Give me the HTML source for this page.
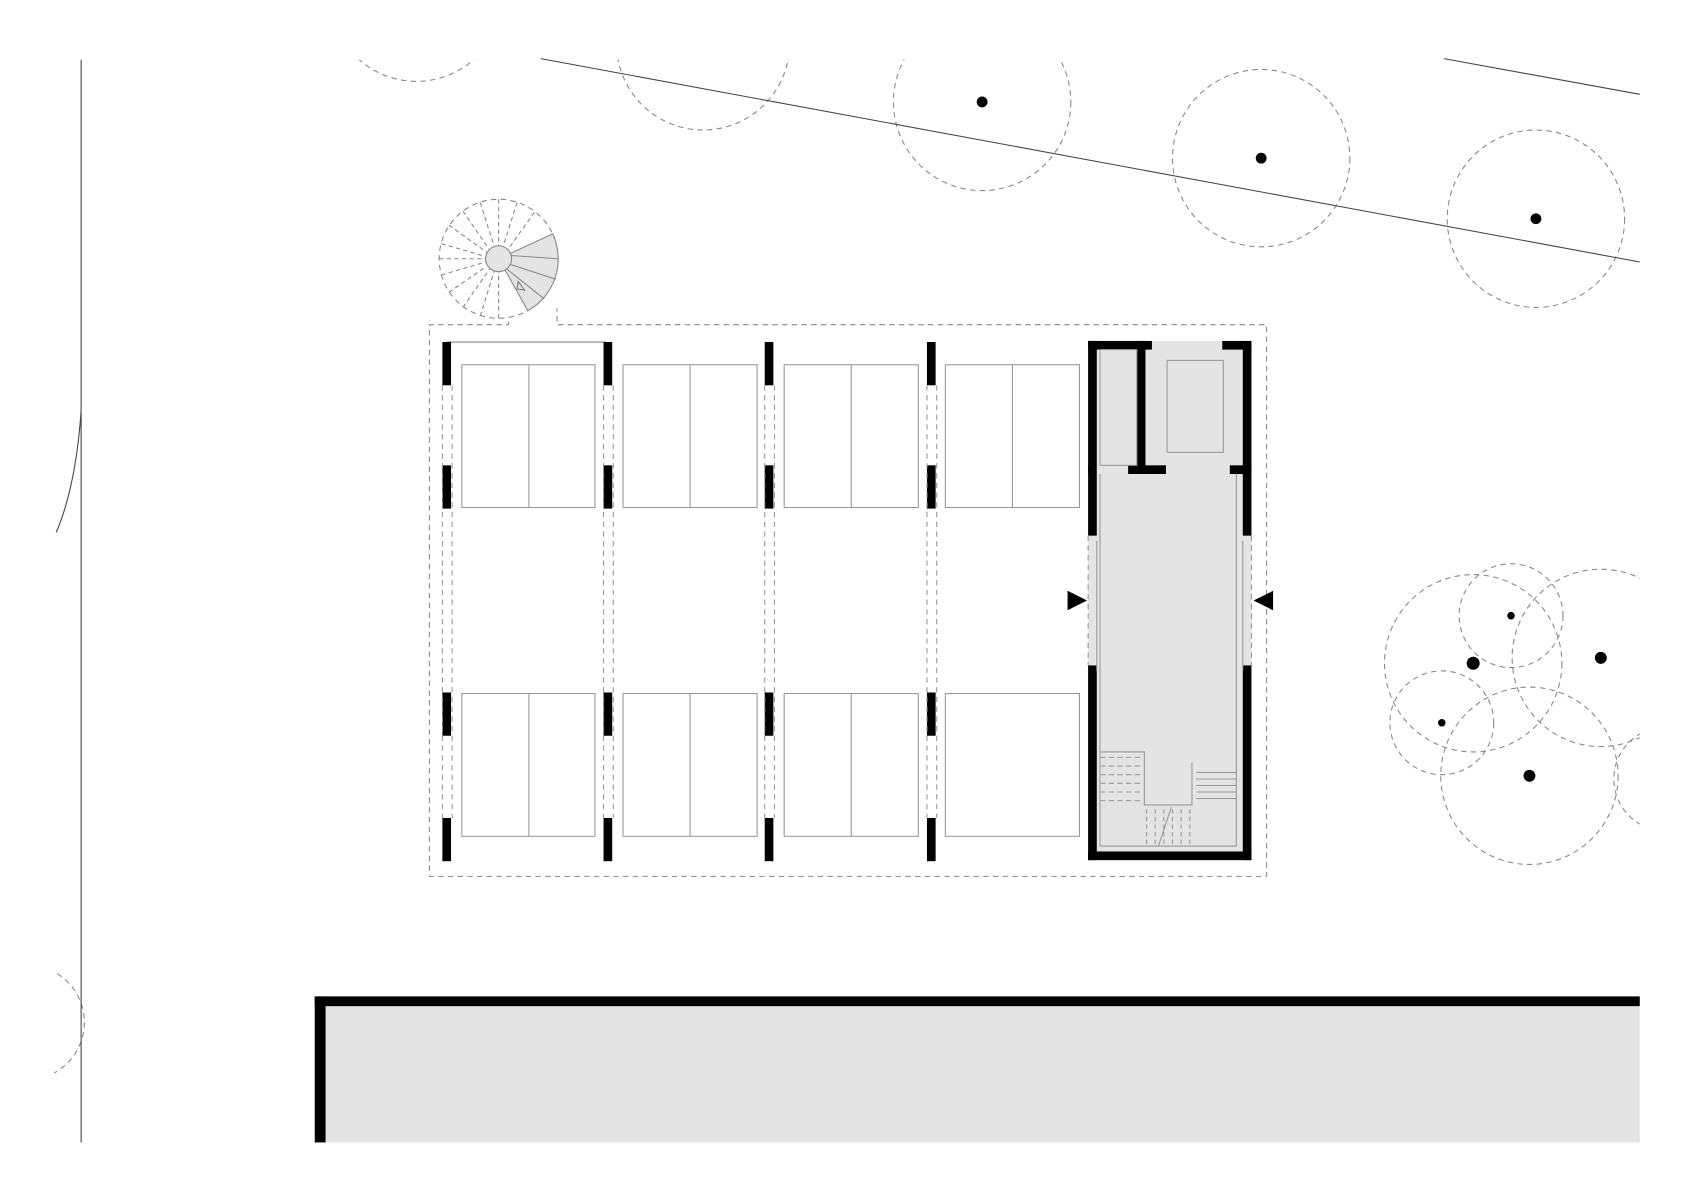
<!DOCTYPE html>
<html><head><style>html,body{margin:0;padding:0;background:#fff}svg{display:block}</style></head><body>
<svg width="1696" height="1200" viewBox="0 0 1568 1109" xmlns="http://www.w3.org/2000/svg">
<defs><clipPath id="c"><rect x="0" y="55" width="1516" height="1010"/></clipPath>
<clipPath id="c2"><rect x="50" y="850" width="100" height="200"/></clipPath></defs>
<rect width="1568" height="1109" fill="#fff"/>
<g clip-path="url(#c)" fill="none" stroke="#888" stroke-width="1" stroke-dasharray="5,4">
<circle cx="385" cy="-5" r="80"/>
<circle cx="650" cy="40" r="80"/>
<circle cx="908" cy="94" r="82"/>
<circle cx="1166" cy="146" r="82"/>
<circle cx="1420" cy="202" r="82"/>
<circle cx="1362" cy="613" r="82"/>
<circle cx="1397" cy="569" r="48"/>
<circle cx="1480" cy="608" r="82"/>
<circle cx="1333" cy="668" r="48"/>
<circle cx="1414" cy="717" r="82"/>
<circle cx="1540" cy="720" r="48"/>
</g>
<circle cx="25" cy="945" r="53" fill="none" stroke="#888" stroke-dasharray="5,4" clip-path="url(#c2)"/>
<g fill="#000">
<circle cx="908" cy="94" r="5"/><circle cx="1166" cy="146" r="5"/><circle cx="1420" cy="202" r="5"/>
<circle cx="1362" cy="613" r="6"/><circle cx="1397" cy="569" r="3.5"/><circle cx="1480" cy="608" r="5.5"/>
<circle cx="1333" cy="668" r="3.5"/><circle cx="1414" cy="717" r="5.5"/>
</g>
<g stroke="#444" stroke-width="1" fill="none">
<line x1="75" y1="55" x2="75" y2="1056"/>
<path d="M75 380 Q70 450 52 492"/>
<line x1="500" y1="54" x2="1516" y2="242"/>
<line x1="1335" y1="54" x2="1516" y2="87"/>
</g>
<g>
<circle cx="461" cy="239" r="55" fill="none" stroke="#888" stroke-dasharray="5,4"/>
<path d="M461 239 L511 216 A55 55 0 0 1 488 287 Z" fill="#e4e4e4" stroke="#888"/>
<g stroke="#888" stroke-dasharray="4,3">
<line x1="461" y1="184" x2="461" y2="227"/><line x1="444" y1="187" x2="457" y2="228"/><line x1="478" y1="187" x2="465" y2="228"/>
<line x1="428" y1="195" x2="452" y2="230"/><line x1="494" y1="196" x2="470" y2="230"/>
<line x1="415" y1="208" x2="450" y2="233"/><line x1="408" y1="225" x2="449" y2="237"/><line x1="406" y1="239" x2="449" y2="239"/>
<line x1="408" y1="254" x2="449" y2="242"/><line x1="415" y1="270" x2="450" y2="246"/><line x1="428" y1="284" x2="453" y2="248"/>
<line x1="444" y1="292" x2="457" y2="250"/><line x1="461" y1="294" x2="461" y2="251"/>
</g>
<g stroke="#888"><line x1="472" y1="236" x2="516" y2="239"/><line x1="471" y1="244" x2="514" y2="258"/><line x1="468" y1="248" x2="503" y2="276"/></g>
<path d="M479 260 L485 268 L478 267 Z" fill="none" stroke="#777"/>
<circle cx="461" cy="239" r="12" fill="#e4e4e4" stroke="#888"/>
</g>
<path d="M470 297 L470 300 L397 300 L397 810 L1171 810 L1171 300 L515 300 L515 285" fill="none" stroke="#888" stroke-dasharray="5,4"/>
<line x1="413" y1="316" x2="560" y2="316" stroke="#bbb" stroke-width="2"/>
<g fill="#000">
<g id="col"><rect x="409" y="316" width="8" height="40"/><rect x="409" y="430" width="8" height="40"/><rect x="409" y="640" width="8" height="40"/><rect x="409" y="756" width="8" height="40"/></g>
<use href="#col" x="149"/><use href="#col" x="298"/><use href="#col" x="448"/>
</g>
<g stroke="#999" stroke-dasharray="5,4">
<line x1="409" y1="356" x2="409" y2="756"/><line x1="418" y1="356" x2="418" y2="756"/>
<line x1="558" y1="356" x2="558" y2="756"/><line x1="567" y1="356" x2="567" y2="756"/>
<line x1="707" y1="356" x2="707" y2="756"/><line x1="716" y1="356" x2="716" y2="756"/>
<line x1="857" y1="356" x2="857" y2="756"/><line x1="866" y1="356" x2="866" y2="756"/>
</g>
<g fill="none" stroke="#999">
<rect x="427" y="337" width="123" height="132"/><rect x="576" y="337" width="124" height="132"/><rect x="725" y="337" width="124" height="132"/><rect x="874" y="337" width="124" height="132"/>
<rect x="427" y="641" width="123" height="132"/><rect x="576" y="641" width="124" height="132"/><rect x="725" y="641" width="124" height="132"/><rect x="874" y="641" width="124" height="132"/>
<line x1="489" y1="337" x2="489" y2="469"/><line x1="638" y1="337" x2="638" y2="469"/><line x1="787" y1="337" x2="787" y2="469"/><line x1="936" y1="337" x2="936" y2="469"/>
<line x1="489" y1="641" x2="489" y2="773"/><line x1="638" y1="641" x2="638" y2="773"/><line x1="787" y1="641" x2="787" y2="773"/>
</g>
<rect x="1006" y="315" width="151" height="480" fill="#e4e4e4"/>
<g fill="#000">
<rect x="1006" y="315" width="59" height="8"/><rect x="1130" y="315" width="27" height="8"/>
<rect x="1006" y="315" width="8" height="180"/><rect x="1149" y="315" width="8" height="180"/>
<rect x="1006" y="615" width="8" height="180"/><rect x="1149" y="615" width="8" height="180"/>
<rect x="1006" y="787" width="151" height="8"/>
<rect x="1051" y="315" width="8" height="123"/>
<rect x="1006" y="430" width="5" height="8"/><rect x="1043" y="430" width="35" height="8"/><rect x="1137" y="430" width="20" height="8"/>
</g>
<g fill="none" stroke="#999">
<rect x="1079" y="333" width="52" height="85"/>
<rect x="1017" y="323" width="34" height="107"/>
<line x1="1017" y1="438" x2="1017" y2="782"/><line x1="1143" y1="438" x2="1143" y2="782"/>
<line x1="1017" y1="782" x2="1143" y2="782"/>
<line x1="1014" y1="500" x2="1014" y2="620"/><line x1="1149" y1="500" x2="1149" y2="620"/>
<path d="M1017 695 L1058 695 L1058 744 L1102 744 L1102 705"/>
<g stroke-dasharray="5,3"><line x1="1017" y1="700" x2="1055" y2="700"/><line x1="1017" y1="708" x2="1055" y2="708"/><line x1="1017" y1="716" x2="1055" y2="716"/><line x1="1017" y1="724" x2="1055" y2="724"/><line x1="1017" y1="732" x2="1055" y2="732"/><line x1="1017" y1="740" x2="1055" y2="740"/></g>
<g><line x1="1106" y1="714" x2="1143" y2="714"/><line x1="1106" y1="720" x2="1143" y2="720"/><line x1="1106" y1="726" x2="1143" y2="726"/><line x1="1106" y1="732" x2="1143" y2="732"/><line x1="1106" y1="738" x2="1143" y2="738"/></g>
<g stroke-dasharray="4,3"><line x1="1060" y1="748" x2="1060" y2="782"/><line x1="1068" y1="748" x2="1068" y2="782"/><line x1="1076" y1="748" x2="1076" y2="782"/><line x1="1084" y1="748" x2="1084" y2="782"/><line x1="1092" y1="748" x2="1092" y2="782"/><line x1="1100" y1="748" x2="1100" y2="782"/></g>
<line x1="1083" y1="746" x2="1071" y2="782"/>
</g>
<g stroke="#999" stroke-dasharray="5,4"><line x1="1006" y1="495" x2="1006" y2="615"/><line x1="1157" y1="495" x2="1157" y2="615"/></g>
<path d="M987 546 L1005 555 L987 564 Z" fill="#000"/>
<path d="M1177 546 L1159 555 L1177 564 Z" fill="#000"/>
<rect x="291" y="921" width="1225" height="135" fill="#e4e4e4"/>
<rect x="291" y="921" width="1225" height="9" fill="#000"/>
<rect x="291" y="921" width="10" height="135" fill="#000"/>
</svg>
</body></html>
